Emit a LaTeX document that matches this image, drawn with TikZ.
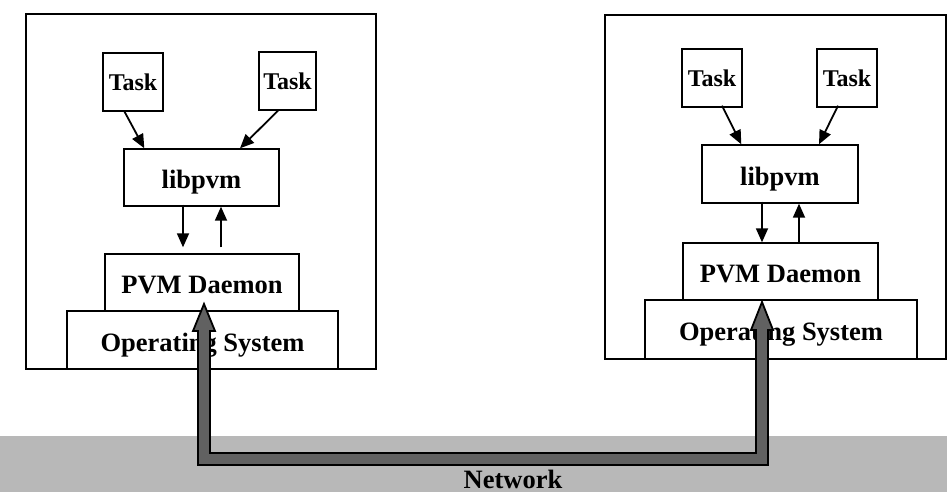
\documentclass[tikz,border=0pt]{standalone}
\usepackage{fontspec}
\setmainfont{Liberation Serif}
\usetikzlibrary{arrows.meta}
\begin{document}
\begin{tikzpicture}[x=1pt,y=-1pt,
  box/.style={draw=black,line width=1.4pt,fill=white,rectangle,inner sep=0pt,
    text height=24pt,text depth=2pt,
    font=\bfseries\fontsize{26.5}{28}\selectfont},
  taskbox/.style={box,text height=19pt,text depth=2pt,font=\bfseries\fontsize{24}{26}\selectfont},
  host/.style={draw=black,line width=1.4pt,rectangle,inner sep=0pt},
  arr/.style={line width=1.8pt,-{Triangle[length=14pt,width=12pt]}},
  bigarrow/.style={draw=black,line width=1.8pt,fill=black!62,line join=miter}]
\useasboundingbox (0,0) rectangle (947,492);
\fill[white] (0,0) rectangle (947,492);
% network band
\fill[black!28] (0,436) rectangle (947,492);
\node[font=\bfseries\fontsize{26.5}{28}\selectfont,inner sep=0pt] (net) at (513,479) {Network};
% left host
\node[host,minimum width=350pt,minimum height=355pt] (h1) at (201,191.5) {};
\node[taskbox,minimum width=60pt,minimum height=58pt] (t1) at (133,82) {Task};
\node[taskbox,minimum width=57pt,minimum height=58pt] (t2) at (287.5,81) {Task};
\node[box,minimum width=155pt,minimum height=57pt] (l1) at (201.5,177.5) {libpvm};
\node[box,minimum width=194pt,minimum height=57pt] (d1) at (202,282.5) {PVM Daemon};
\node[box,minimum width=271pt,minimum height=58pt] (o1) at (202.5,340) {Operating System};
% right host
\node[host,minimum width=341pt,minimum height=344pt] (h2) at (775.5,187) {};
\node[taskbox,minimum width=60pt,minimum height=58pt] (t3) at (712,78) {Task};
\node[taskbox,minimum width=60pt,minimum height=58pt] (t4) at (847,78) {Task};
\node[box,minimum width=156pt,minimum height=58pt] (l2) at (780,174) {libpvm};
\node[box,minimum width=195pt,minimum height=57pt] (d2) at (780.5,271.5) {PVM Daemon};
\node[box,minimum width=272pt,minimum height=59pt] (o2) at (781,329.5) {Operating System};
% left arrows
\draw[arr] ([xshift=-9pt,yshift=1pt]t1.south) -- ([xshift=21pt]l1.north west);
\draw[arr] ([xshift=-8.5pt,yshift=1pt]t2.south) -- ([xshift=38.5pt]l1.north);
\draw[arr,shorten >=6pt] ([xshift=-18.5pt,yshift=2pt]l1.south) -- ([xshift=-19pt]d1.north);
\draw[arr,shorten <=6pt] ([xshift=19pt]d1.north) -- ([xshift=19.5pt]l1.south);
% right arrows
\draw[arr] ([xshift=10pt,yshift=2pt]t3.south) -- ([xshift=40pt]l2.north west);
\draw[arr] ([xshift=-9pt,yshift=2pt]t4.south) -- ([xshift=39pt]l2.north);
\draw[arr] ([xshift=-18pt,yshift=2pt]l2.south) -- ([xshift=-18.5pt]d2.north);
\draw[arr] ([xshift=18.5pt]d2.north) -- ([xshift=19pt]l2.south);
% network arrow between the two daemons
\coordinate (tipL) at (204,304);
\coordinate (tipR) at (762,302);
\path[bigarrow] (tipL) -- ++(11,27) -- ++(-5,0) -- (210,453) -- (756,453)
  -- (756,330) -- ++(-5,0) -- (tipR) -- ++(11,28) -- ++(-5,0) -- (768,465)
  -- (198,465) -- (198,331) -- ++(-5,0) -- cycle;
\end{tikzpicture}
\end{document}
